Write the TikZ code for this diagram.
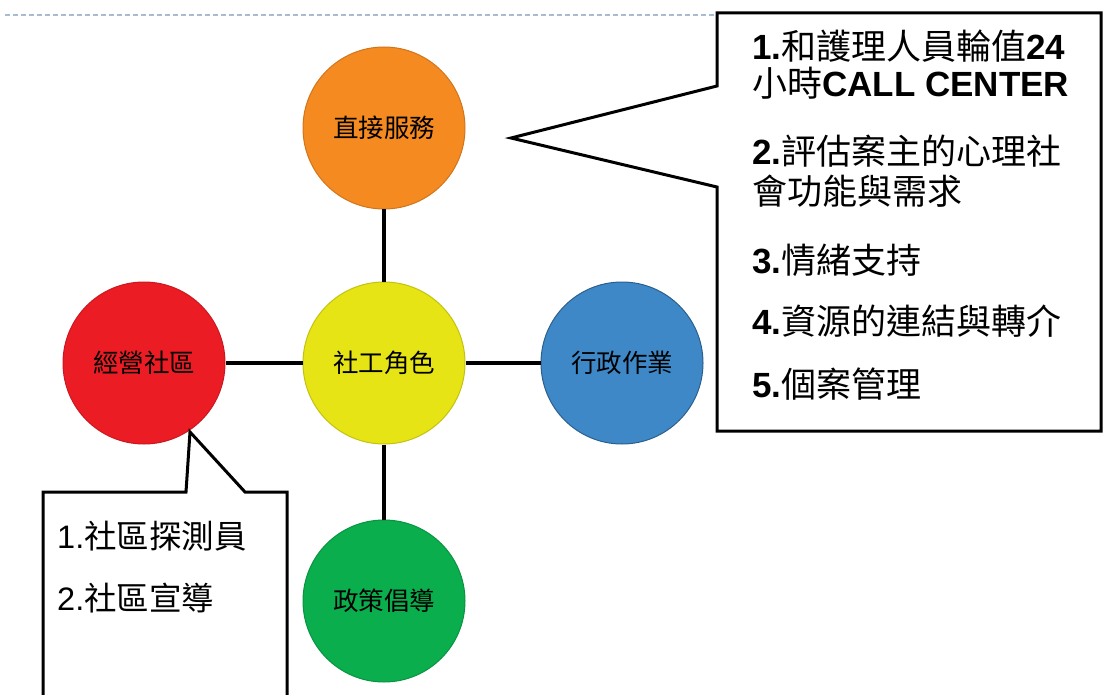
\documentclass[tikz,border=0pt]{standalone}
\usepackage{fontspec}
\setmainfont{Liberation Sans}
\newfontfamily\cjk{Noto Sans CJK TC}
\definecolor{orangeC}{RGB}{245,138,32}
\definecolor{yellowC}{RGB}{230,228,20}
\definecolor{redC}{RGB}{236,28,36}
\definecolor{blueC}{RGB}{62,136,200}
\definecolor{greenC}{RGB}{10,174,76}
\definecolor{dashC}{RGB}{170,188,212}
\begin{document}
\begin{tikzpicture}[x=1pt,y=-1pt,
  role/.style={circle, minimum size=162pt, inner sep=0pt, line width=1pt,
    font=\cjk\fontsize{25.5}{25.5}\selectfont},
  link/.style={line width=4pt},
  callout/.style={draw=black, fill=white, line width=3pt, line join=miter},
  item/.style={anchor=base west, inner sep=0pt, font=\fontsize{35}{35}\selectfont},
  sitem/.style={anchor=base west, inner sep=0pt, font=\fontsize{32.5}{32.5}\selectfont}]
\useasboundingbox (0,0) rectangle (1103,695);
% top dashed rule
\draw[dashC, line width=2pt, dash pattern=on 5pt off 3pt] (5,15) -- (717,15);
% circles
\node[role, fill=yellowC, draw=yellowC!85!black] (core) at (384,363) {社工角色};
\node[role, fill=orangeC, draw=orangeC!85!black] (direct) at (384,128) {直接服務};
\node[role, fill=redC, draw=redC!85!black] (comm) at (144,363) {經營社區};
\node[role, fill=blueC, draw=blueC!70!black] (admin) at (622,363) {行政作業};
\node[role, fill=greenC, draw=greenC!85!black] (policy) at (384,601) {政策倡導};
% connectors
\draw[link] (core) -- (direct);
\draw[link] (core) -- (comm);
\draw[link] (core) -- (admin);
\draw[link] (core) -- (policy);
% right callout
\coordinate (rtip) at (511,138);
\draw[callout] (717,13) -- (1101,13) -- (1101,431) -- (717,431) -- (717,187)
  -- (rtip) -- (717,86) -- cycle;
% left callout
\coordinate (ltip) at (190,432);
\draw[callout] (43,700) -- (43,492) -- (186,492) -- (ltip) -- (245,492)
  -- (287,492) -- (287,700);
% right callout text
\node[item] (r1) at (752,60) {\bfseries 1.{\cjk\mdseries 和護理人員輪值}24};
\node[item] (r2) at (752,97) {{\cjk 小時}\bfseries CALL CENTER};
\node[item] (r3) at (752,165) {\bfseries 2.{\cjk\mdseries 評估案主的心理社}};
\node[item] (r4) at (752,205) {\cjk 會功能與需求};
\node[item] (r5) at (752,273) {\bfseries 3.{\cjk\mdseries 情緒支持}};
\node[item] (r6) at (752,334) {\bfseries 4.{\cjk\mdseries 資源的連結與轉介}};
\node[item] (r7) at (752,397) {\bfseries 5.{\cjk\mdseries 個案管理}};
% left callout text
\node[sitem] (l1) at (57,548) {1.{\cjk 社區探測員}};
\node[sitem] (l2) at (57,610) {2.{\cjk 社區宣導}};
\end{tikzpicture}
\end{document}
